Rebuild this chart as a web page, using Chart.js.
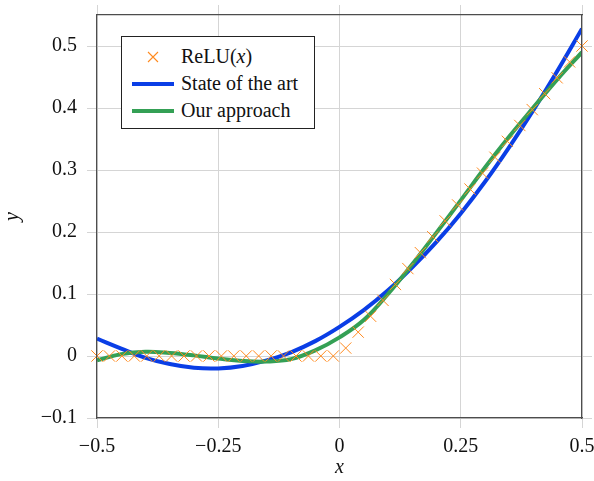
<!DOCTYPE html>
<html>
<head>
<meta charset="utf-8">
<script src="https://cdn.jsdelivr.net/npm/chart.js@4.4.1/dist/chart.umd.min.js"></script>
<style>
  body { margin: 0; background: #fff; }
  #wrap { position: relative; width: 594px; height: 481px; }
  #legend {
    position: absolute; left: 121px; top: 36px; width: 194px; height: 93px;
    box-sizing: border-box; border: 1px solid #222; background: #fff;
    padding: 6px 0 0 10px;
    font-family: 'Liberation Serif', serif; font-size: 20px; color: #111;
  }
  .row { display: flex; align-items: center; height: 27px; white-space: nowrap; }
  .swatch { width: 42px; height: 27px; display: flex; align-items: center; justify-content: center; margin-right: 7px; }
  .line { width: 42px; height: 4px; }
</style>
</head>
<body>
<div id="wrap">
  <canvas id="chart" width="594" height="481"></canvas>
  <div id="legend">
    <div class="row">
      <span class="swatch">
        <svg width="12" height="12" viewBox="0 0 12 12">
          <path d="M1 1 L11 11 M1 11 L11 1" stroke="#ff8a1f" stroke-width="1.1" />
        </svg>
      </span>
      <span>ReLU(<i>x</i>)</span>
    </div>
    <div class="row"><span class="swatch"><span class="line" style="background:#0a3ee6"></span></span><span>State of the art</span></div>
    <div class="row"><span class="swatch"><span class="line" style="background:#34a055"></span></span><span>Our approach</span></div>
  </div>
</div>

<script>
// ── Tick values / labels ──
const xTickValues = [-0.5, -0.25, 0, 0.25, 0.5];
const xTickLabels = ['−0.5', '−0.25', '0', '0.25', '0.5'];
const yTickValues = [-0.1, 0, 0.1, 0.2, 0.3, 0.4, 0.5];
const yTickLabels = ['−0.1', '0', '0.1', '0.2', '0.3', '0.4', '0.5'];

// ReLU samples (40 markers)
const reluX = [-0.5, -0.4744, -0.4487, -0.4231, -0.3974, -0.3718, -0.3462, -0.3205, -0.2949, -0.2692,
  -0.2436, -0.2179, -0.1923, -0.1667, -0.141, -0.1154, -0.0897, -0.0641, -0.0385, -0.0128,
  0.0128, 0.0385, 0.0641, 0.0897, 0.1154, 0.141, 0.1667, 0.1923, 0.2179, 0.2436,
  0.2692, 0.2949, 0.3205, 0.3462, 0.3718, 0.3974, 0.4231, 0.4487, 0.4744, 0.5];
const reluY = [0, 0, 0, 0, 0, 0, 0, 0, 0, 0,
  0, 0, 0, 0, 0, 0, 0, 0, 0, 0,
  0.0128, 0.0385, 0.0641, 0.0897, 0.1154, 0.141, 0.1667, 0.1923, 0.2179, 0.2436,
  0.2692, 0.2949, 0.3205, 0.3462, 0.3718, 0.3974, 0.4231, 0.4487, 0.4744, 0.5];

// Fitted curves
const fitX = [-0.5, -0.45, -0.4, -0.35, -0.3, -0.25, -0.2, -0.15, -0.1, -0.05, 0,
  0.05, 0.1, 0.15, 0.2, 0.25, 0.3, 0.35, 0.4, 0.45, 0.5];
const stateOfArt = [0.028, 0.012, -0.003, -0.013, -0.019, -0.020, -0.016, -0.007, 0.006, 0.024, 0.047,
  0.074, 0.106, 0.143, 0.184, 0.230, 0.281, 0.337, 0.397, 0.461, 0.528];
const ourApproach = [-0.007, 0.003, 0.007, 0.005, 0.001, -0.004, -0.008, -0.009, -0.005, 0.009, 0.030,
  0.058, 0.100, 0.148, 0.199, 0.251, 0.304, 0.354, 0.401, 0.447, 0.490];

const gridGray = '#d5d5d5';
const frame = { display: true, color: '#4d4d4d', width: 1.2, z: 1 };
const tickFont = { family: 'Liberation Serif', size: 20 };
const titleFont = { family: 'Liberation Serif', size: 20, style: 'italic' };

// Force the tick positions from the arrays above
function fixTicks(values) {
  return scale => { scale.ticks = values.map(v => ({ value: v })); };
}
// Fixed axis box sizes so the plot frame lands where the reference has it
function fixSize(prop, size) {
  return scale => {
    scale[prop] = size;
    scale.paddingLeft = 0; scale.paddingRight = 0;
    scale.paddingTop = 0; scale.paddingBottom = 0;
  };
}

const toPoints = (xs, ys) => xs.map((x, i) => ({ x: x, y: ys[i] }));

new Chart(document.getElementById('chart').getContext('2d'), {
  type: 'scatter',
  data: {
    datasets: [
      {
        label: 'ReLU(x)',
        data: toPoints(reluX, reluY),
        pointStyle: 'crossRot',
        pointRadius: 8,
        borderColor: '#ff8a1f',
        borderWidth: 1,
        showLine: false,
        clip: false,
        order: 0
      },
      {
        label: 'State of the art',
        data: toPoints(fitX, stateOfArt),
        showLine: true,
        borderColor: '#0a3ee6',
        borderWidth: 4,
        pointRadius: 0,
        tension: 0.4,
        clip: 0,
        order: 2
      },
      {
        label: 'Our approach',
        data: toPoints(fitX, ourApproach),
        showLine: true,
        borderColor: '#34a055',
        borderWidth: 4,
        pointRadius: 0,
        tension: 0.4,
        clip: 0,
        order: 1
      }
    ]
  },
  options: {
    responsive: false,
    animation: false,
    layout: { padding: 0 },
    plugins: { legend: { display: false }, tooltip: { enabled: false } },
    scales: {
      x: {
        type: 'linear', position: 'bottom', min: -0.5, max: 0.5,
        afterBuildTicks: fixTicks(xTickValues),
        afterFit: fixSize('height', 63),
        grid: { color: gridGray, tickColor: gridGray, tickLength: 10, lineWidth: 1 },
        border: frame,
        ticks: { font: tickFont, color: '#111', padding: 7, maxRotation: 0, autoSkip: false,
                 callback: (v, i) => xTickLabels[i] },
        title: { display: true, text: 'x', font: titleFont, color: '#111', padding: { top: 0, bottom: 1 } }
      },
      x2: {
        type: 'linear', position: 'top', min: -0.5, max: 0.5,
        afterBuildTicks: fixTicks(xTickValues),
        afterFit: fixSize('height', 15),
        grid: { drawOnChartArea: false, color: gridGray, tickLength: 10 },
        border: frame,
        ticks: { display: false }
      },
      y: {
        type: 'linear', position: 'left', min: -0.1, max: 0.55,
        afterBuildTicks: fixTicks(yTickValues),
        afterFit: fixSize('width', 97),
        grid: { color: gridGray, tickColor: gridGray, tickLength: 10, lineWidth: 1 },
        border: frame,
        ticks: { font: tickFont, color: '#111', padding: 10, autoSkip: false,
                 callback: (v, i) => yTickLabels[i] },
        title: { display: true, text: 'y', font: titleFont, color: '#111', padding: { top: 1, bottom: 0 } }
      },
      y2: {
        type: 'linear', position: 'right', min: -0.1, max: 0.55,
        afterBuildTicks: fixTicks(yTickValues),
        afterFit: fixSize('width', 12),
        grid: { drawOnChartArea: false, color: gridGray, tickLength: 10 },
        border: frame,
        ticks: { display: false }
      }
    }
  }
});
</script>
</body>
</html>
